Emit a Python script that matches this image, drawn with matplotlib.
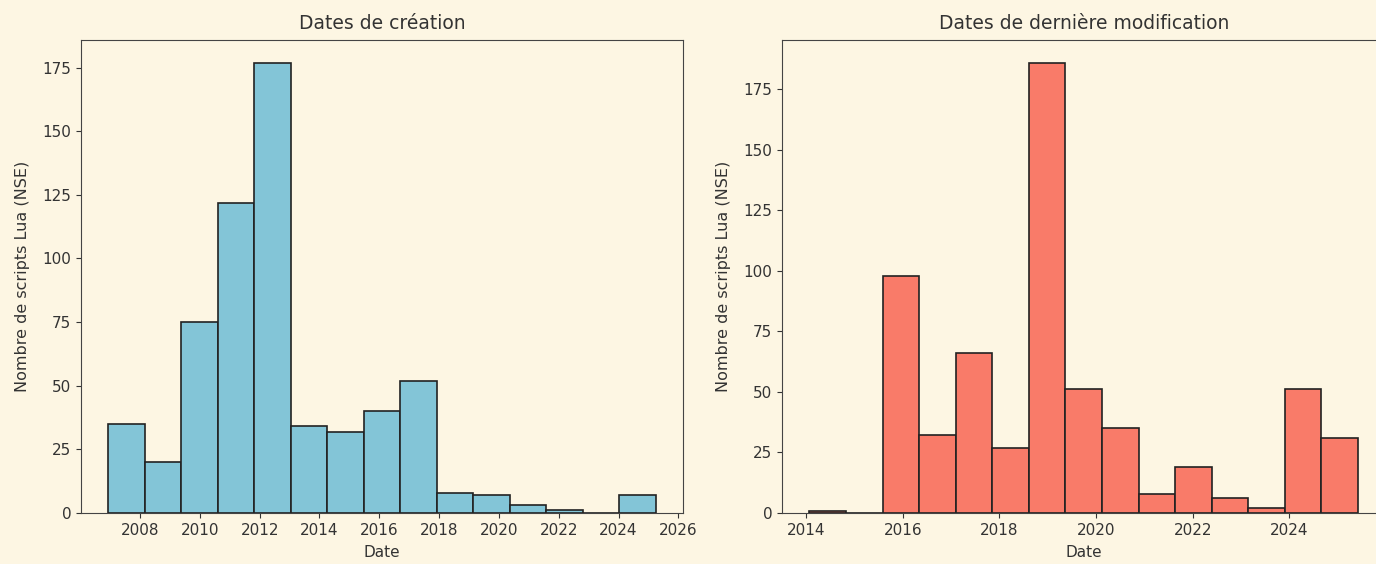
import numpy as np
import matplotlib
matplotlib.use("Agg")
import matplotlib.pyplot as plt
from matplotlib.ticker import MultipleLocator, FormatStrFormatter

# ---- data ----
creation_counts = [35, 20, 75, 122, 177, 34, 32, 40, 52, 8, 7, 3, 1, 0, 7]
creation_range = (2006.94, 2025.24)
modif_counts = [1, 0, 98, 32, 66, 27, 186, 51, 35, 8, 19, 6, 2, 51, 31]
modif_range = (2014.07, 2025.42)
titles = ["Dates de création", "Dates de dernière modification"]
xlabel = "Date"
ylabel = "Nombre de scripts Lua (NSE)"

BG = "#FDF6E3"
plt.rcParams['font.family'] = ['DejaVu Sans']

fig = plt.figure(figsize=(13.76, 5.64), dpi=100, facecolor=BG)
ax1 = fig.add_axes([81/1376, 51/564, 602/1376, 473/564])
ax2 = fig.add_axes([782/1376, 51/564, 603.5/1376, 473/564])

def draw(ax, counts, rng, color, title):
    edges = np.linspace(rng[0], rng[1], len(counts) + 1)
    ax.hist(edges[:-1], bins=edges, weights=counts, color=color,
            edgecolor="#222222", linewidth=1.2)
    ax.set_facecolor(BG)
    ax.set_title(title, fontsize=13.5, color="#333333", pad=8)
    ax.set_xlabel(xlabel, fontsize=11, color="#333333", labelpad=5.5)
    ax.set_ylabel(ylabel, fontsize=11.5, color="#333333", labelpad=9)
    ax.xaxis.set_major_locator(MultipleLocator(2))
    ax.xaxis.set_major_formatter(FormatStrFormatter('%d'))
    ax.yaxis.set_major_locator(MultipleLocator(25))
    ax.tick_params(labelsize=11, colors="#333333")
    for s in ax.spines.values():
        s.set_color("#444444")

draw(ax1, creation_counts, creation_range, "#83C5D7", titles[0])
draw(ax2, modif_counts, modif_range, "#F97B69", titles[1])

fig.savefig("out.png", dpi=100, facecolor=BG)
